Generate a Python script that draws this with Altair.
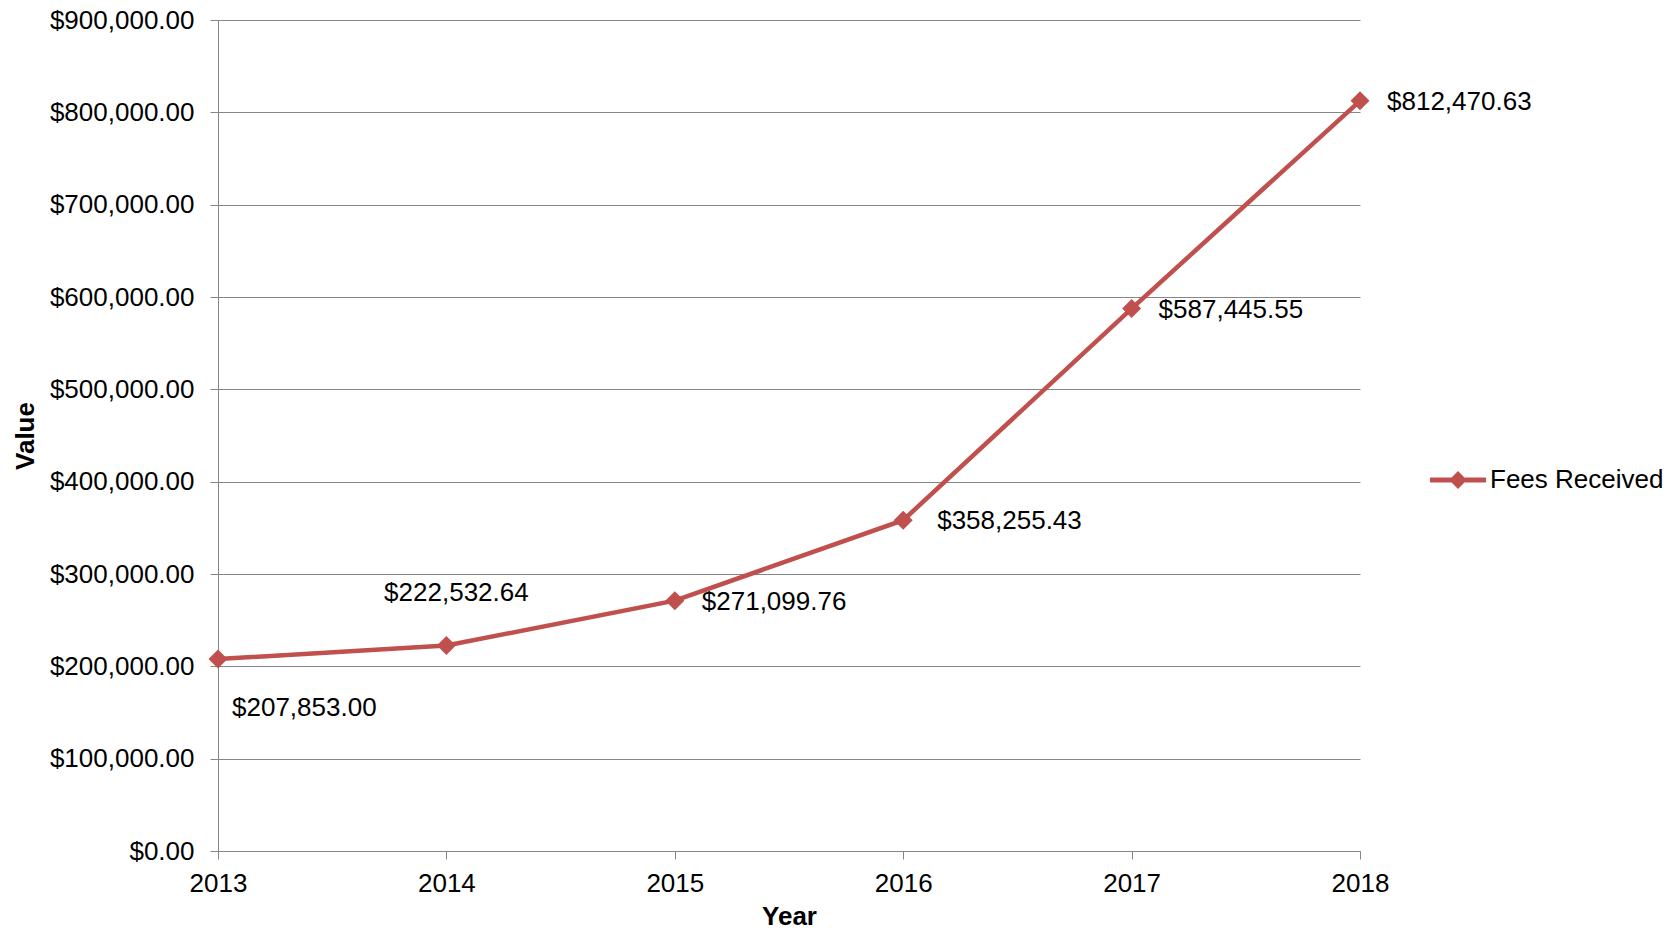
import altair as alt
import pandas as pd

years = [2013, 2014, 2015, 2016, 2017, 2018]
fees = [207853.00, 222532.64, 271099.76, 358255.43, 587445.55, 812470.63]
series = ["Fees Received"] * 6
y_ticks = [0, 100000, 200000, 300000, 400000, 500000, 600000, 700000, 800000, 900000]

df = pd.DataFrame({"year": years, "fees": fees, "series": series})

RED = "#C0504D"
GRID = "#868686"
FONT = "Liberation Sans"
FS = 26

x_enc = alt.X(
    "year:Q",
    scale=alt.Scale(domain=[2013, 2018], nice=False, zero=False),
    axis=alt.Axis(
        values=years, format="d", grid=False, tickSize=8, tickColor=GRID,
        domainColor=GRID, labelFontSize=FS, labelColor="black", labelPadding=11,
        labelFont=FONT, labelFlush=False, title="Year", titleFont=FONT,
        titleFontSize=FS, titleFontWeight="bold", titleColor="black", titleY=73,
        titleBaseline="alphabetic",
    ),
)
y_enc = alt.Y(
    "fees:Q",
    scale=alt.Scale(domain=[0, 900000], nice=False),
    axis=alt.Axis(
        values=y_ticks, format="$,.2f", grid=True, gridColor=GRID, tickSize=8,
        tickColor=GRID, domainColor=GRID, labelFontSize=FS, labelColor="black",
        labelPadding=16, labelFont=FONT, labelFlush=False, title="Value",
        titleFont=FONT, titleFontSize=FS, titleFontWeight="bold",
        titleColor="black", titleX=-193, titleY=415.5, titleAlign="center",
        titleBaseline="middle", titleAngle=270,
    ),
)

base = alt.Chart(df).encode(x=x_enc, y=y_enc)

line = base.mark_line(color=RED, strokeWidth=4.5)

legend_path = ("M-1,-0.09L-0.23,-0.09L0,-0.32L0.23,-0.09L1,-0.09L1,0.09"
               "L0.23,0.09L0,0.32L-0.23,0.09L-1,0.09Z")

points = base.mark_point(filled=True, shape="diamond", size=360, opacity=1).encode(
    color=alt.Color(
        "series:N",
        scale=alt.Scale(domain=["Fees Received"], range=[RED]),
        legend=alt.Legend(
            title=None, orient="none", legendX=1211, legendY=431,
            symbolType=legend_path, symbolSize=3136, symbolOpacity=1,
            labelFontSize=FS, labelFont=FONT, labelColor="black",
            labelOffset=3, labelLimit=400, padding=0,
        ),
    )
)

txt = dict(fontSize=FS, font=FONT, color="black", baseline="middle")
lab_below = base.mark_text(align="left", dx=14, dy=49, **txt).encode(
    text=alt.Text("fees:Q", format="$,.2f")
).transform_filter(alt.datum.year == 2013)
lab_above = base.mark_text(align="center", dx=10, dy=-53, **txt).encode(
    text=alt.Text("fees:Q", format="$,.2f")
).transform_filter(alt.datum.year == 2014)
lab_right = base.mark_text(align="left", dx=27, dy=1, **txt).encode(
    text=alt.Text("fees:Q", format="$,.2f")
).transform_filter((alt.datum.year >= 2015) & (alt.datum.year != 2016))
lab_right2 = base.mark_text(align="left", dx=34, dy=1, **txt).encode(
    text=alt.Text("fees:Q", format="$,.2f")
).transform_filter(alt.datum.year == 2016)

chart = alt.layer(line, points, lab_below, lab_above, lab_right, lab_right2).properties(
    width=1142, height=831,
    autosize=alt.AutoSizeParams(type="none"),
    padding={"left": 210, "top": 12, "right": 311, "bottom": 79},
).configure_view(stroke=None)

chart.save("out.html", embed_options={"renderer": "svg", "actions": False})
